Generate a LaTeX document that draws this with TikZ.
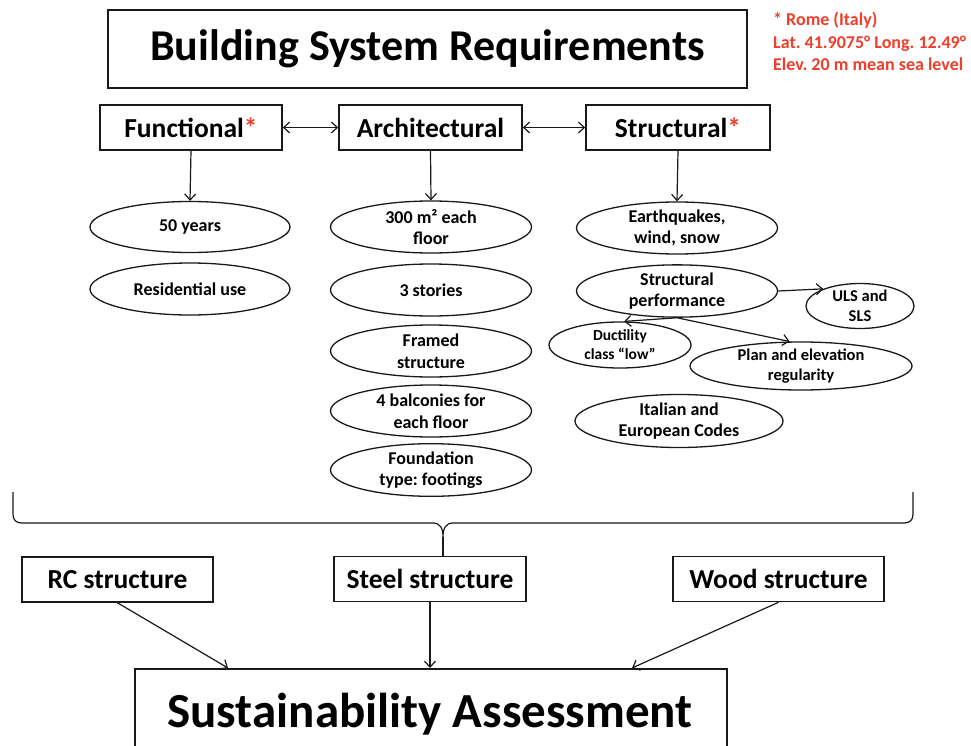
\documentclass[tikz,border=0pt]{standalone}
\usepackage{fontspec}
\setmainfont{Carlito}
\frenchspacing
\usetikzlibrary{shapes.geometric,arrows.meta}
\definecolor{redtxt}{RGB}{238,62,44}
\definecolor{ink}{RGB}{25,25,25}
\tikzset{
  bigbox/.style={draw=ink,line width=1.8pt,inner sep=0pt,font=\fontsize{44}{50}\selectfont\bfseries},
  catbox/.style={draw=ink,line width=1.6pt,inner sep=0pt,minimum height=45pt,font=\fontsize{27.5}{32}\selectfont\bfseries},
  ell/.style={ellipse,draw=ink,line width=1.3pt,inner sep=0pt,align=center,font=\fontsize{18}{21.5}\selectfont\bfseries},
  sell/.style={ell,font=\fontsize{16.5}{19.5}\selectfont\bfseries},
  arr/.style={draw=ink,line width=1.2pt,-{Straight Barb[length=6pt,width=11pt]}},
  darr/.style={draw=ink,line width=1.2pt,{Straight Barb[length=6pt,width=11pt]}-{Straight Barb[length=6pt,width=11pt]}},
  ln/.style={draw=ink,line width=1.2pt}
}
\begin{document}
\begin{tikzpicture}[x=1pt,y=-1pt]
\useasboundingbox[fill=white] (0,0) rectangle (971,746);
% title
\node[bigbox,minimum width=639pt,minimum height=78pt] (title) at (427.5,49) {Building System Requirements};
\node[anchor=north west,align=left,text=redtxt,inner sep=0pt,font=\fontsize{18}{22.5}\selectfont\bfseries] (note) at (773,12) {* Rome (Italy)\\Lat. 41.9075° Long. 12.49°\\Elev. 20 m mean sea level};
% category boxes
\node[catbox,minimum width=182pt] (func) at (191,127.5) {Functional\textcolor{redtxt}{*}};
\node[catbox,minimum width=183pt] (arch) at (430.5,127.5) {Architectural};
\node[catbox,minimum width=184pt] (struc) at (678,127.5) {Structural\textcolor{redtxt}{*}};
\draw[darr] (func) -- (arch);
\draw[darr] (arch) -- (struc);
% functional
\node[ell,minimum width=200pt,minimum height=51pt] (f1) at (190,227) {50 years};
\node[ell,minimum width=200pt,minimum height=52pt] (f2) at (190,289) {Residential use};
% architectural
\node[ell,minimum width=201pt,minimum height=52pt] (a1) at (431,227) {300 m² each\\floor};
\node[ell,minimum width=201pt,minimum height=52pt] (a2) at (431,290) {3 stories};
\node[ell,minimum width=201pt,minimum height=52pt] (a3) at (431,351) {Framed\\structure};
\node[ell,minimum width=201pt,minimum height=52pt] (a4) at (431,411) {4 balconies for\\each floor};
\node[ell,minimum width=201pt,minimum height=50pt] (a5) at (431,470) {Foundation\\type: footings};
% structural
\node[ell,minimum width=201pt,minimum height=52pt] (s1) at (677,228) {Earthquakes,\\wind, snow};
\node[ell,minimum width=201pt,minimum height=50pt] (s2) at (677,291) {Structural\\performance};
\node[sell,minimum width=108pt,minimum height=45pt] (s3) at (860,306) {ULS and\\SLS};
\node[sell,font=\fontsize{15.5}{19}\selectfont\bfseries,minimum width=142pt,minimum height=46pt] (s4) at (620,345) {Ductility\\class “low”};
\node[sell,minimum width=222pt,minimum height=48pt] (s5) at (801,366) {Plan and elevation\\regularity};
\node[ell,minimum width=208pt,minimum height=53pt] (s6) at (679,421) {Italian and\\European Codes};
\draw[arr] (func.south) -- (f1.north);
\draw[arr] (arch.south) -- (a1.north);
\draw[arr] (struc.south) -- (s1.north);
\draw[arr] (s2.east) -- (s3.155);
\draw[arr] (s2.south) -- (s4.80);
\draw[arr] (s2.south) -- (s5.115);
% brace
\coordinate (bt) at (443,537);
\draw[ln] (13,492) -- (13,514) .. controls (13,520) and (16,523) .. (22,523) -- (433,523)
  .. controls (440,523) and (443,528) .. (bt) .. controls (443,528) and (446,523) .. (453,523)
  -- (904,523) .. controls (910,523) and (913,520) .. (913,514) -- (913,492);
% materials
\node[catbox,minimum width=191pt] (rc) at (117.5,579.5) {RC structure};
\node[catbox,minimum width=192pt] (steel) at (430,579) {Steel structure};
\node[catbox,minimum width=211pt] (wood) at (778.5,579) {Wood structure};
\draw[ln] (bt) -- (bt |- steel.north);
% sustainability
\node[bigbox,minimum width=592pt,minimum height=110pt,anchor=north] (sust) at (431,668) {};
\node[font=\fontsize{49}{55}\selectfont\bfseries,anchor=base,inner sep=0pt] (susttxt) at (430,727) {Sustainability Assessment};
\coordinate (rcend) at (228,668);
\coordinate (woodend) at (632,668);
\draw[arr] (rc.south) -- (rcend);
\draw[arr] (steel.south) -- (steel.south |- sust.north);
\draw[arr] (wood.south) -- (woodend);
\end{tikzpicture}
\end{document}
